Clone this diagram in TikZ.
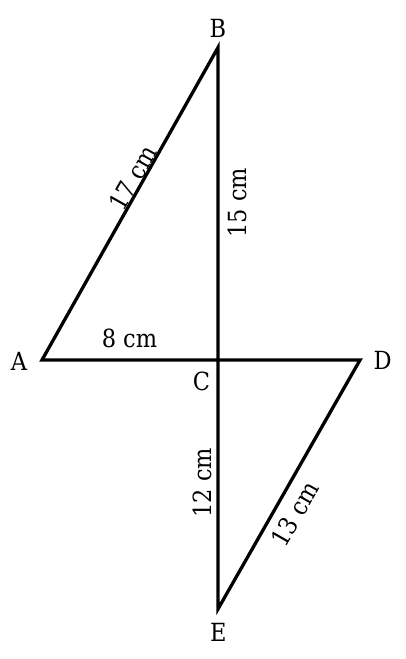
\documentclass[tikz,border=0pt]{standalone}
\usepackage{fontspec}
\setmainfont[FakeStretch=0.9]{DejaVu Serif}
\begin{document}
\begin{tikzpicture}[x=1pt,y=-1pt,
  fig/.style={line width=3.3pt,draw=black,line join=miter},
  lbl/.style={inner sep=0pt,font=\fontsize{25}{26}\selectfont},
  pt/.style={inner sep=0pt,font=\fontsize{25}{26}\selectfont}]
\useasboundingbox (0,0) rectangle (405,659);
\coordinate (A) at (42,360);
\coordinate (B) at (218,47.5);
\coordinate (C) at (218,360);
\coordinate (D) at (360,360);
\coordinate (E) at (218,609);
\draw[fig] (A) -- (B) -- (C) -- (E) -- (D) -- (C) -- cycle;
\node[pt] (lA) at (19,361) {A};
\node[pt] (lB) at (218,28) {B};
\node[pt] (lC) at (201.5,381.5) {C};
\node[pt] (lD) at (382.7,360.7) {D};
\node[pt] (lE) at (218.3,632.3) {E};
\node[lbl] (l8) at (129.5,338.3) {8 cm};
\node[lbl,rotate=90] (l15) at (237.5,202.5) {15 cm};
\node[lbl,rotate=90] (l12) at (202,482.5) {12 cm};
\node[lbl,rotate=60.6] (l17) at (133,178) {17 cm};
\node[lbl,rotate=60.3] (l13) at (295,514) {13 cm};
\end{tikzpicture}
\end{document}
